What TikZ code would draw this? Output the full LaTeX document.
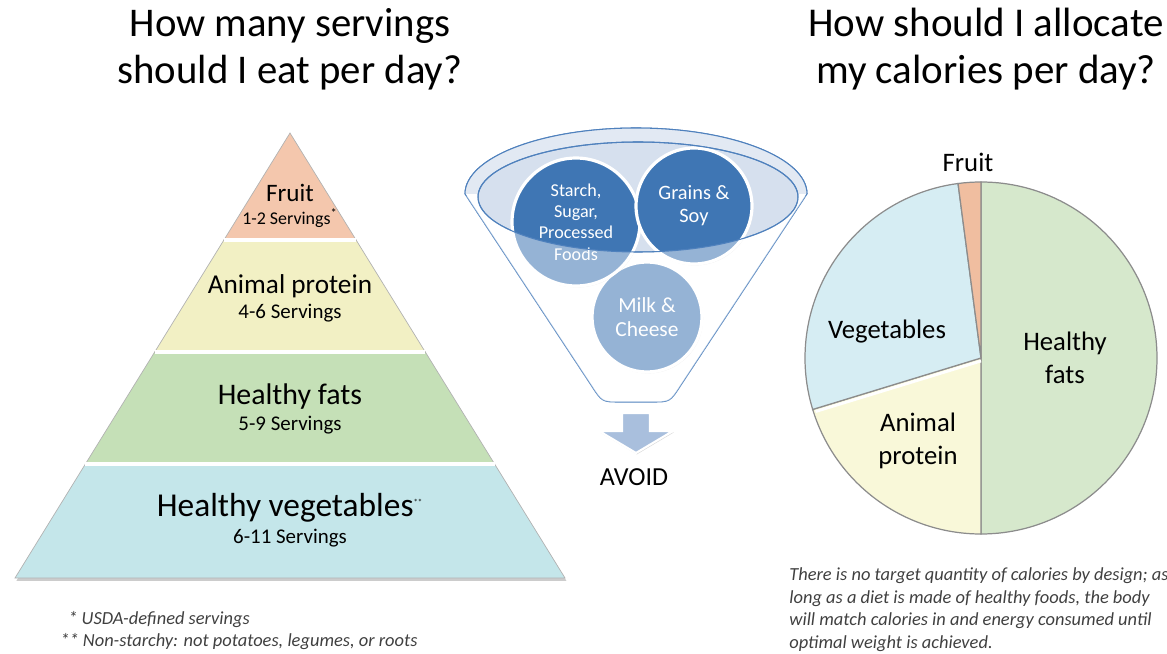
\documentclass[tikz,border=0pt]{standalone}
\usepackage{fontspec}
\setmainfont{Carlito}
\usetikzlibrary{shadows}

\definecolor{frutta}{HTML}{F4C7AD}
\definecolor{proteine}{HTML}{F2F0C4}
\definecolor{grassi}{HTML}{C5E0B7}
\definecolor{verdure}{HTML}{C4E6EA}
\definecolor{tfrutta}{HTML}{F0BEA0}
\definecolor{tproteine}{HTML}{F9F8D9}
\definecolor{tgrassi}{HTML}{D6E8CC}
\definecolor{tverdure}{HTML}{D6EDF3}
\definecolor{blu}{HTML}{4F81BD}
\definecolor{bluscuro}{HTML}{3F76B4}
\definecolor{azzurro}{HTML}{E2E9F3}
\definecolor{bocca}{HTML}{D6E0EE}
\definecolor{freccia}{HTML}{A9BFDD}
\newcommand{\fsz}[2]{\fontsize{#1}{#2}\selectfont}

\tikzset{
  gradino/.style={draw=black!30, line width=0.4pt},
  stacco/.style={white, line width=1.8pt},
  fetta/.style={draw=black!45, line width=0.7pt},
  bolla/.style={circle, fill=bluscuro, draw=white, line width=1.8pt, text=white, align=center, inner sep=0pt,
    drop shadow={opacity=0.25, shadow xshift=0.6pt, shadow yshift=-0.8pt}},
  bordo/.style={draw=blu, line width=0.6pt},
  etichetta/.style={align=center, text=black},
  nota/.style={font=\fsz{10.5}{13}\itshape, text=black!75, inner sep=0pt}
}

\begin{document}
\begin{tikzpicture}[x=0.02cm, y=0.02cm]
        \clip (0,0) rectangle (1167,653);
        %titoli
        \node[etichetta, font=\fsz{23.2}{27}] (titoloA) at (290,604) {How many servings\\should I eat per day?};
        \node[etichetta, font=\fsz{23.3}{27}] (titoloB) at (986,604) {How should I allocate\\my calories per day?};

        %piramide
            \filldraw[fill=verdure, gradino, drop shadow={opacity=0.4, shadow xshift=0.8pt, shadow yshift=-1.6pt}]
                (15,75) -- (565,75) -- (494.6,189) -- (85.4,189) -- cycle;
            \filldraw[fill=grassi, gradino] (85.4,189) -- (494.6,189) -- (425.3,301) -- (154.7,301) -- cycle;
            \filldraw[fill=proteine, gradino] (154.7,301) -- (425.3,301) -- (356.1,413) -- (223.9,413) -- cycle;
            \filldraw[fill=frutta, gradino] (223.9,413) -- (356.1,413) -- (290,520) -- cycle;
        %stacchi
        \draw[stacco](85.4,189)--(494.6,189);
        \draw[stacco](154.7,301)--(425.3,301);
        \draw[stacco](223.9,413)--(356.1,413);
        %label piramide
        \node[etichetta, font=\fsz{14.3}{16}] (fruit) at (290,460) {Fruit};
        \node[etichetta, font=\fsz{10.2}{12}] (fruitS) at (290,435) {1-2 Servings\textsuperscript{*}};
        \node[etichetta, font=\fsz{15.5}{18}] (animal) at (290,367) {Animal protein};
        \node[etichetta, font=\fsz{11.9}{14}] (animalS) at (290,340) {4-6 Servings};
        \node[etichetta, font=\fsz{17}{20}] (fats) at (290,256) {Healthy fats};
        \node[etichetta, font=\fsz{11.9}{14}] (fatsS) at (290,228) {5-9 Servings};
        \node[etichetta, font=\fsz{19}{22}] (veg) at (290,145) {Healthy vegetables\textsuperscript{\tiny**}};
        \node[etichetta, font=\fsz{11.9}{14}] (vegS) at (290,115) {6-11 Servings};

        %imbuto
            \filldraw[fill=white, bordo](465,459) arc (180:0:171 and 66) -- (681,268)
                .. controls (670,251) .. (652,251) -- (620,251) .. controls (602,251) .. (591,268) -- cycle;
            \fill[azzurro](465,459) arc (180:0:171 and 66) -- cycle;
            \draw[bordo](465,459) arc (180:0:171 and 66);
            \filldraw[fill=bocca, bordo](638,456) ellipse [x radius=160, y radius=55];
        %cerchi
        \node[bolla, minimum size=2.2cm, font=\fsz{12.2}{13.6}] (milk) at (647,336) {Milk \&\\Cheese};
        \node[bolla, minimum size=2.56cm, font=\fsz{10.3}{12.1}] (starch) at (576,431) {Starch,\\Sugar,\\Processed\\Foods};
        \node[bolla, minimum size=2.32cm, font=\fsz{11.6}{13}] (grains) at (694,447) {Grains \&\\Soy};
        %velo sulla parte bassa
        \begin{scope}
            \clip (400,0) rectangle (900,456);
            \fill[white, opacity=0.45, even odd rule](465,459) arc (180:0:171 and 66) -- (681,268)
                .. controls (670,251) .. (652,251) -- (620,251) .. controls (602,251) .. (591,268) -- cycle
                (638,456) ellipse [x radius=160, y radius=55];
        \end{scope}
        \draw[bordo](638,456) ellipse [x radius=160, y radius=55];
        %freccia
        \filldraw[fill=freccia, draw=white, line width=1.2pt, drop shadow={opacity=0.3, shadow xshift=0.5pt, shadow yshift=-0.8pt}]
            (622,240) -- (650,240) -- (650,222) -- (673,222) -- (636,200) -- (599,222) -- (622,222) -- cycle;
        \node[etichetta, font=\fsz{14.8}{17}] (avoid) at (634,176) {AVOID};

        %torta
        \coordinate (centro) at (981,295);
            \filldraw[fill=tgrassi, fetta](centro) -- ++(-90:176) arc (-90:90:176) -- cycle;
            \filldraw[fill=tproteine, fetta](centro) -- ++(197:176) arc (197:270:176) -- cycle;
            \filldraw[fill=tverdure, fetta](centro) -- ++(97.5:176) arc (97.5:197:176) -- cycle;
            \filldraw[fill=tfrutta, fetta](centro) -- ++(90:176) arc (90:97.5:176) -- cycle;
        \draw[white, line width=1.6pt](981,292) -- ++(197:173);
        %label torta
        \node[etichetta, font=\fsz{15.2}{18}] (pfruit) at (968,491) {Fruit};
        \node[etichetta, font=\fsz{15.2}{18}] (pveg) at (887,321) {Vegetables};
        \node[etichetta, font=\fsz{15.2}{18.7}] (pfats) at (1065,295) {Healthy\\fats};
        \node[etichetta, font=\fsz{15.2}{18.7}] (panimal) at (918,212) {Animal\\protein};

        %note
        \node[nota, anchor=base west] (nota1) at (68,29) {* USDA-defined servings};
        \node[nota, anchor=base west] (nota2) at (60,7) {** Non-starchy: not potatoes, legumes, or roots};
        \node[nota, anchor=north west, align=left] (nota3) at (789,86) {There is no target quantity of calories by design; as\\long as a diet is made of healthy foods, the body\\will match calories in and energy consumed until\\optimal weight is achieved.};

        \end{tikzpicture}
\end{document}
